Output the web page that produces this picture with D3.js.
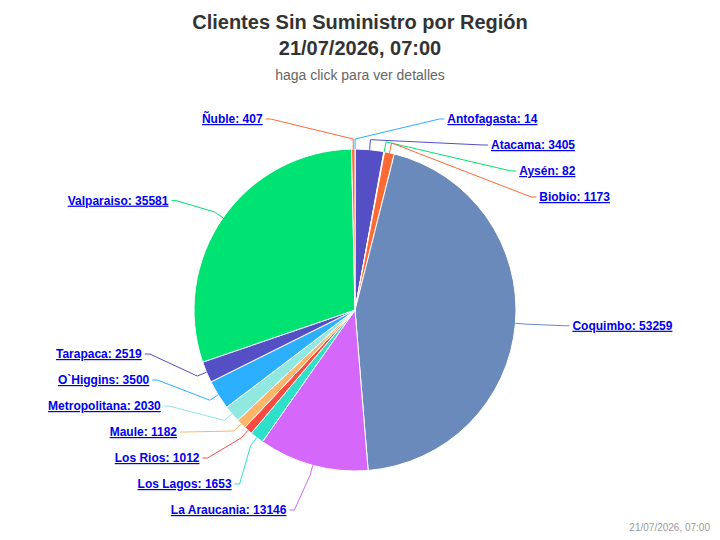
<!DOCTYPE html>
<html><head><meta charset="utf-8">
<script src="https://cdn.jsdelivr.net/npm/d3@7"></script>
<style>body{margin:0;background:#fff;font-family:"Liberation Sans",Arial,sans-serif}</style>
</head><body><svg id="c" width="720" height="540"></svg>
<script>
const regions=["Antofagasta","Atacama","Aysén","Biobio","Coquimbo","La Araucania","Los Lagos","Los Rios","Maule","Metropolitana","O`Higgins","Tarapaca","Valparaiso","Ñuble"];
const clients=[14,3405,82,1173,53259,13146,1653,1012,1182,2030,3500,2519,35581,407];
const palette=["#2caffe","#544fc5","#00e272","#fe6a35","#6b8abc","#d568fb","#2ee0ca","#fa4b42","#feb56a","#91e8e1"];
const titleLines=["Clientes Sin Suministro por Región","21/07/2026, 07:00"];
const subtitle="haga click para ver detalles";
const credit="21/07/2026, 07:00";

const svg=d3.select("#c");
const cx=355,cy=310,r=161,RX=215,RY=210;
svg.append("text").attr("x",360).attr("y",29).attr("text-anchor","middle").attr("font-size",20).attr("font-weight","bold").attr("fill","#333").text(titleLines[0]);
svg.append("text").attr("x",360).attr("y",55).attr("text-anchor","middle").attr("font-size",20).attr("font-weight","bold").attr("fill","#333").text(titleLines[1]);
svg.append("text").attr("x",360).attr("y",80).attr("text-anchor","middle").attr("font-size",14).attr("fill","#666").text(subtitle);
svg.append("text").attr("x",710).attr("y",531).attr("text-anchor","end").attr("font-size",10).attr("fill","#999").text(credit);

const data=regions.map((n,i)=>({name:n,value:clients[i],color:palette[i%palette.length]}));
const arcs=d3.pie().sort(null).value(d=>d.value)(data);
const arc=d3.arc().innerRadius(0).outerRadius(r);
const g=svg.append("g").attr("transform",`translate(${cx},${cy})`);
g.selectAll("path").data(arcs).join("path").attr("d",arc).attr("fill",d=>d.data.color).attr("stroke","#fff").attr("stroke-width",1);

// labels
arcs.forEach(a=>{a.mid=(a.startAngle+a.endAngle)/2;a.right=Math.sin(a.mid)>=0;a.ly=-(r+30)*Math.cos(a.mid);});
[true,false].forEach(side=>{
  const s=arcs.filter(a=>a.right===side).sort((a,b)=>a.ly-b.ly);
  for(let i=1;i<s.length;i++) if(s[i].ly-s[i-1].ly<26) s[i].ly=s[i-1].ly+26;
  const maxY=200;
  if(s.length&&s[s.length-1].ly>maxY){s[s.length-1].ly=maxY;for(let i=s.length-2;i>=0;i--) if(s[i+1].ly-s[i].ly<26) s[i].ly=s[i+1].ly-26;}
  for(let i=1;i<s.length;i++) if(s[i].ly-s[i-1].ly<26) s[i].ly=s[i-1].ly+26;
});
arcs.forEach(a=>{
  const dy=Math.min(Math.abs(a.ly),RY*0.98);
  let lx=RX*Math.sqrt(1-(dy/RY)**2);
  if(Math.abs(a.ly)>170) lx=Math.max(lx,Math.abs(a.mid)<0.3||Math.abs(a.mid-2*Math.PI)<0.3?15:lx);
  lx=a.right?lx:-lx;
  const p0=[r*Math.sin(a.mid),-r*Math.cos(a.mid)];
  const p1=[(r+10)*Math.sin(a.mid),-(r+10)*Math.cos(a.mid)];
  const ex=lx+(a.right?-5:5);
  g.append("path").attr("d",`M${p0}L${p1}L${ex},${a.ly}L${lx},${a.ly}`).attr("fill","none").attr("stroke",a.data.color).attr("stroke-width",1);
  g.append("text").attr("x",lx+(a.right?3:-3)).attr("y",a.ly+4).attr("text-anchor",a.right?"start":"end")
   .attr("font-size",12).attr("font-weight","bold").attr("fill","#0000ee").attr("text-decoration","underline")
   .text(`${a.data.name}: ${a.data.value}`);
});
</script></body></html>
